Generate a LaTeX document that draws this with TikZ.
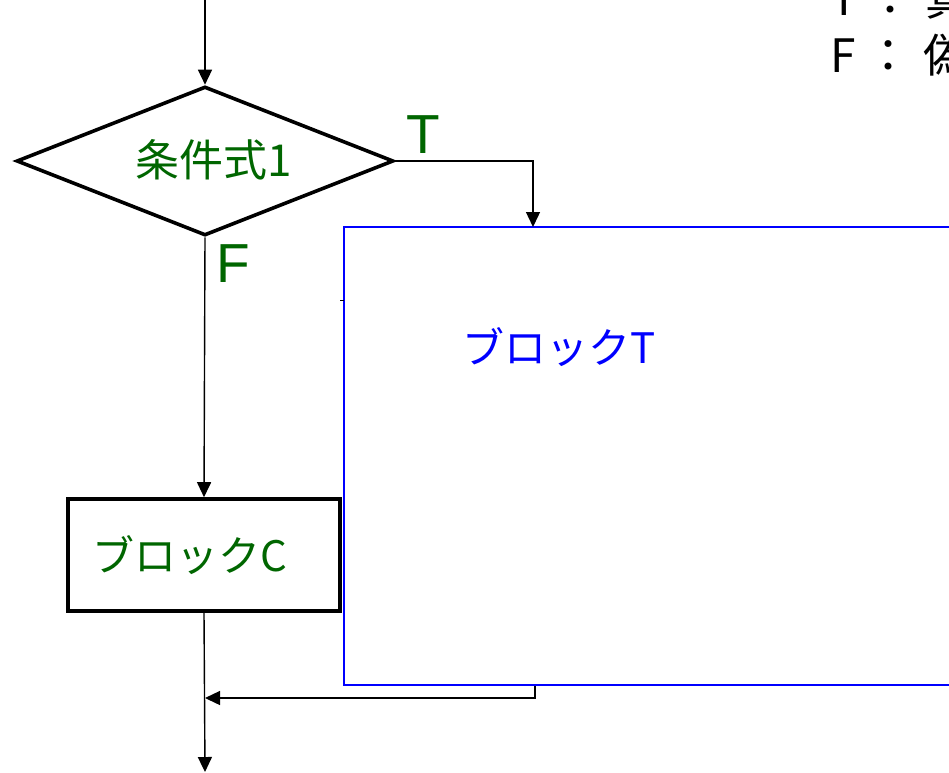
\documentclass[tikz,border=0pt]{standalone}
\usepackage{fontspec}
\setmainfont{Noto Sans CJK JP}
\newfontfamily\latinsans{Liberation Sans}
\usetikzlibrary{shapes.geometric,arrows.meta}
\definecolor{lblgreen}{RGB}{0,102,0}
\definecolor{lblblue}{RGB}{0,0,255}
\tikzset{
  arr/.style={draw=black, line width=1.4pt, -{Triangle[length=15pt,width=14pt]}},
  glabel/.style={text=lblgreen, font=\fontsize{44}{48}\selectfont, inner sep=0pt},
  clabel/.style={text=lblgreen, font=\fontsize{42}{46}\selectfont, inner sep=0pt},
  blabel/.style={text=lblblue, font=\fontsize{42}{46}\selectfont, inner sep=0pt},
  tflabel/.style={text=lblgreen, font=\latinsans\fontsize{55}{60}\selectfont, inner sep=0pt},
  legend/.style={text=black, font=\fontsize{46}{53}\selectfont, inner sep=0pt, anchor=base west},
  decision/.style={diamond, draw=black, line width=3.6pt, minimum width=377pt, minimum height=149pt, inner sep=0pt},
  blockc/.style={rectangle, draw=black, line width=3.6pt, minimum width=272pt, minimum height=112pt, inner sep=0pt},
  blockt/.style={rectangle, draw=lblblue, line width=1.8pt, minimum width=660pt, minimum height=458pt, inner sep=0pt}
}
\begin{document}
\begin{tikzpicture}[x=1pt,y=-1pt]
\useasboundingbox (0,0) rectangle (949,772);
\clip (0,0) rectangle (949,772);
% legend
\node[legend] (lt) at (830,15) {T\hspace{10pt}：\hspace{12pt}真};
\node[legend] (lf) at (830,72) {F\hspace{10pt}：\hspace{12pt}偽};
% shapes
\node[decision] (d) at (205,161) {};
\node[glabel] (dtext) at (214,160) {条件式1};
\node[blockt] (bt) at (674,456) {};
\node[blabel] (bttext) at (559,347) {ブロックT};
\node[blockc] (bc) at (204,555) {};
\node[clabel] (bctext) at (190,555) {ブロックC};
% labels
\node[tflabel] (tl) at (423,135) {T};
\node[tflabel] (fl) at (233,264) {F};
% coordinates
\coordinate (top) at (205,0);
\coordinate (tin) at (533,227);
\coordinate (tout) at (535,686);
\coordinate (join) at (205,698);
\coordinate (bottom) at (205,772);
% connectors
\draw[arr] (top) -- (d.north);
\draw[arr] (d.east) -| (tin);
\draw[arr] (d.south) -- (bc.north);
\draw[arr] (bc.south) -- (bottom);
\draw[arr] (tout) |- (join);
\draw[line width=1pt] (340,300) -- (344,300);
\end{tikzpicture}
\end{document}
